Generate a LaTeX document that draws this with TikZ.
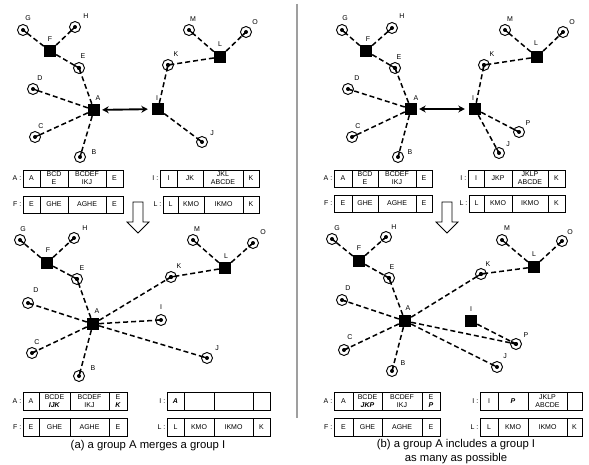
\documentclass[tikz,border=0pt]{standalone}
\usepackage{fontspec}
\setmainfont{Liberation Sans}
\usetikzlibrary{calc,arrows.meta}
\tikzset{
  hub/.style={rectangle, fill=black, minimum size=12pt, inner sep=0pt},
  leaf/.style={circle, draw=black, line width=0.95pt, minimum size=11pt, inner sep=0pt},
  lbl/.style={font=\fontsize{7}{8}\selectfont, inner sep=0pt},
  dl/.style={line width=1.5pt, dash pattern=on 5pt off 3pt},
  sl/.style={line width=1.3pt},
  dotc/.style={fill=black},
  cell/.style={draw, line width=0.75pt, outer sep=0pt, inner sep=0pt, align=center, font=\fontsize{7}{8}\selectfont},
  tlab/.style={font=\fontsize{7}{8}\selectfont, inner sep=0pt, anchor=east, xshift=-1.5pt},
  biarrow/.style={line width=1.9pt, {Stealth[length=6.5pt,width=7pt]}-{Stealth[length=6.5pt,width=7pt]}, shorten <=2pt, shorten >=4pt},
  bigarrow/.style={draw, line width=0.75pt, fill=white},
  captext/.style={font=\fontsize{11.3}{14}\selectfont, inner sep=0pt, align=center}
}
\newcommand\hubat[4]{\node[hub] (#1) at (#2) {}; \node[lbl] (#1t) at (#3) {#4};}
\newcommand\leafat[4]{\node[leaf] (#1) at (#2) {}; \node[lbl] (#1t) at (#3) {#4};}
\newcommand\joinl[2]{\draw[dl] (#1) -- (#2.center); \draw[sl] (#2.center) -- ($(#2.center)!5.5pt!(#1.center)$); \path[dotc] (#2.center) circle [radius=2pt];}
\newcommand\trow[6]{%
  \node[cell, minimum height=#3pt, minimum width=#4pt, anchor=north west] (#1-1) at (#2) {#5};
  \foreach \w/\t [count=\i from 2] in {#6} {%
    \pgfmathtruncatemacro\pj{\i-1}%
    \node[cell, minimum height=#3pt, minimum width=\w pt, anchor=north west] (#1-\i) at (#1-\pj.north east) {\t};
  }%
}
\newcommand\bi[1]{\textbf{\textit{#1}}}
\begin{document}
\begin{tikzpicture}[x=1pt,y=-1pt]
\useasboundingbox[fill=white] (0,0) rectangle (589,465);
% ---------- panel a (top left)
\hubat{aF}{50,51}{50,39}{F}
\hubat{aA}{94,110}{98,98}{A}
\hubat{aL}{220,57}{220,44}{L}
\hubat{aI}{158,109}{157,98}{I}
\leafat{aG}{23,30}{28,18}{G}
\leafat{aH}{75,27}{86,16}{H}
\leafat{aE}{79,68}{83,56}{E}
\leafat{aD}{33,89}{40,78}{D}
\leafat{aC}{35,137}{41,126}{C}
\leafat{aB}{80,157}{94,152}{B}
\leafat{aM}{189,30}{193,19}{M}
\leafat{aO}{246,32}{255,22}{O}
\leafat{aK}{168,65}{176,54}{K}
\leafat{aJ}{202,142}{212,133}{J}
\joinl{aF}{aG}\joinl{aF}{aH}\joinl{aF}{aE}\joinl{aA}{aE}
\joinl{aA}{aD}\joinl{aA}{aC}\joinl{aA}{aB}
\joinl{aL}{aM}\joinl{aL}{aO}\joinl{aL}{aK}\joinl{aI}{aK}\joinl{aI}{aJ}
\draw[biarrow] (aA) -- (aI);
\trow{aTA}{23,170}{17}{17}{A}{28/{BCD\\E},38/{BCDEF\\IKJ},17/E}
\trow{aTF}{23,196}{17}{17}{E}{28/GHE,38/AGHE,17/E}
\trow{aTI}{160,170}{17}{17}{I}{26/JK,40/{JKL\\ABCDE},16/K}
\trow{aTL}{163,196}{17}{15}{L}{26/KMO,39/IKMO,16/K}
\node[tlab] (aTAl) at (aTA-1.west) {A :};
\node[tlab] (aTFl) at (aTF-1.west) {F :};
\node[tlab] (aTIl) at (aTI-1.west) {I :};
\node[tlab] (aTLl) at (aTL-1.west) {L :};
\draw[bigarrow] (133,202) -- (143,202) -- (143,222) -- (149,222) -- (138,233) -- (127,222) -- (133,222) -- cycle;
% ---------- panel b (bottom left)
\hubat{bF}{47,263}{48,250}{F}
\hubat{bA}{93,324}{97,311}{A}
\hubat{bL}{225,268}{226,256}{L}
\leafat{bG}{20,240}{23,229}{G}
\leafat{bH}{74,238}{85,228}{H}
\leafat{bE}{77,279}{82,268}{E}
\leafat{bD}{28,303}{36,290}{D}
\leafat{bC}{32,353}{37,342}{C}
\leafat{bB}{79,376}{93,368}{B}
\leafat{bM}{193,240}{197,229}{M}
\leafat{bO}{253,243}{263,232}{O}
\leafat{bK}{171,277}{179,266}{K}
\leafat{bI}{161,320}{161,307}{I}
\leafat{bJ}{207,358}{217,348}{J}
\joinl{bF}{bG}\joinl{bF}{bH}\joinl{bF}{bE}\joinl{bA}{bE}
\joinl{bA}{bD}\joinl{bA}{bC}\joinl{bA}{bB}
\joinl{bL}{bM}\joinl{bL}{bO}\joinl{bL}{bK}
\joinl{bA}{bK}\joinl{bA}{bI}\joinl{bA}{bJ}
\trow{bTA}{23,392}{18}{16}{A}{31/{BCDE\\\bi{IJK}},39/{BCDEF\\IKJ},18/{E\\\bi{K}}}
\trow{bTF}{23,418}{18}{16}{E}{31/GHE,39/AGHE,18/E}
\trow{bTI}{167,392}{18}{17}{\bi{A}}{30/{},39/{},17/{}}
\trow{bTL}{167,418}{18}{17}{L}{30/KMO,39/IKMO,17/K}
\node[tlab] (bTAl) at (bTA-1.west) {A :};
\node[tlab] (bTFl) at (bTF-1.west) {F :};
\node[tlab] (bTIl) at (bTI-1.west) {I :};
\node[tlab] (bTLl) at (bTL-1.west) {L :};
\node[captext] (capa) at (148,446) {(a) a group A merges a group I};
% ---------- divider
\draw[gray!75, line width=1.2pt] (297,4) -- (297,418);
% ---------- panel c (top right)
\hubat{cF}{366,51}{368,39}{F}
\hubat{cA}{411,109}{416,98}{A}
\hubat{cL}{537,57}{536,43}{L}
\hubat{cI}{475,109}{473,98}{I}
\leafat{cG}{342,30}{345,18}{G}
\leafat{cH}{392,28}{402,16}{H}
\leafat{cE}{395,68}{399,57}{E}
\leafat{cD}{348,89}{357,78}{D}
\leafat{cC}{352,137}{358,126}{C}
\leafat{cB}{398,157}{410,152}{B}
\leafat{cM}{505,30}{510,19}{M}
\leafat{cO}{563,32}{572,22}{O}
\leafat{cK}{484,65}{492,54}{K}
\leafat{cP}{519,132}{528,123}{P}
\leafat{cJ}{499,153}{508,144}{J}
\joinl{cF}{cG}\joinl{cF}{cH}\joinl{cF}{cE}\joinl{cA}{cE}
\joinl{cA}{cD}\joinl{cA}{cC}\joinl{cA}{cB}
\joinl{cL}{cM}\joinl{cL}{cO}\joinl{cL}{cK}
\joinl{cI}{cK}\joinl{cI}{cP}\joinl{cI}{cJ}
\draw[biarrow] (cA) -- (cI);
\trow{cTA}{334,170}{17}{18}{A}{26/{BCD\\E},38/{BCDEF\\IKJ},16/E}
\trow{cTF}{334,195}{17}{18}{E}{26/GHE,38/AGHE,16/E}
\trow{cTI}{468,170}{17}{16}{I}{28/JKP,36/{JKLP\\ABCDE},17/K}
\trow{cTL}{469,195}{17}{15}{L}{28/KMO,36/IKMO,17/K}
\node[tlab] (cTAl) at (cTA-1.west) {A :};
\node[tlab] (cTFl) at (cTF-1.west) {F :};
\node[tlab] (cTIl) at (cTI-1.west) {I :};
\node[tlab] (cTLl) at (cTL-1.west) {L :};
\draw[bigarrow] (442,202) -- (452,202) -- (452,222) -- (458,222) -- (447,233) -- (436,222) -- (442,222) -- cycle;
% ---------- panel d (bottom right)
\hubat{dF}{359,261}{359,248}{F}
\hubat{dA}{405,321}{408,308}{A}
\hubat{dL}{534,267}{534,254}{L}
\hubat{dI}{471,321}{471,309}{I}
\leafat{dG}{332,239}{337,228}{G}
\leafat{dH}{386,237}{394,227}{H}
\leafat{dE}{389,278}{392,267}{E}
\leafat{dD}{342,300}{348,288}{D}
\leafat{dC}{344,350}{350,337}{C}
\leafat{dB}{392,371}{403,363}{B}
\leafat{dM}{502,240}{507,228}{M}
\leafat{dO}{562,241}{570,232}{O}
\leafat{dK}{481,274}{488,264}{K}
\leafat{dP}{516,344}{526,335}{P}
\leafat{dJ}{497,367}{505,356}{J}
\joinl{dF}{dG}\joinl{dF}{dH}\joinl{dF}{dE}\joinl{dA}{dE}
\joinl{dA}{dD}\joinl{dA}{dC}\joinl{dA}{dB}
\joinl{dL}{dM}\joinl{dL}{dO}\joinl{dL}{dK}
\joinl{dA}{dK}\joinl{dA}{dP}\joinl{dA}{dJ}\joinl{dI}{dP}
\trow{dTA}{334,392}{18}{19}{A}{29/{BCDE\\\bi{JKP}},40/{BCDEF\\IKJ},18/{E\\\bi{P}}}
\trow{dTF}{334,418}{18}{19}{E}{29/GHE,40/AGHE,18/E}
\trow{dTI}{480,392}{18}{18}{I}{30/\bi{P},39/{JKLP\\ABCDE},15/{}}
\trow{dTL}{480,418}{18}{18}{L}{30/KMO,39/IKMO,15/K}
\node[tlab] (dTAl) at (dTA-1.west) {A :};
\node[tlab] (dTFl) at (dTF-1.west) {F :};
\node[tlab] (dTIl) at (dTI-1.west) {I :};
\node[tlab] (dTLl) at (dTL-1.west) {L :};
\node[captext] (capb) at (456,452) {(b) a group A includes a group I\\as many as possible};
\end{tikzpicture}
\end{document}
